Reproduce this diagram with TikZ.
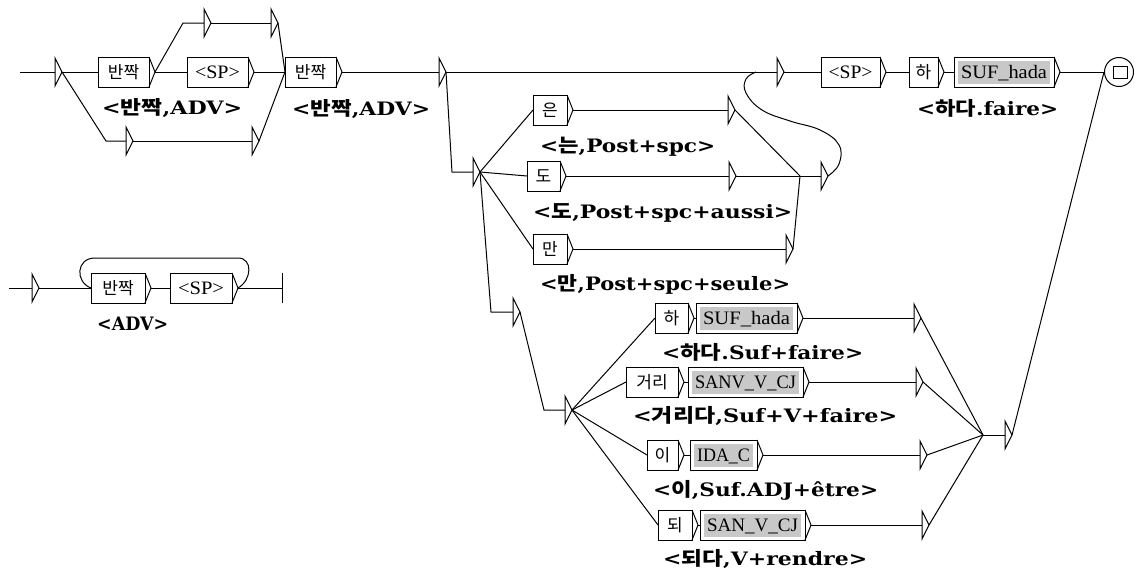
\documentclass[tikz,border=0pt]{standalone}
\usepackage{fontspec}
\usepackage{graphicx}
\setmainfont{Liberation Serif}
\newfontfamily\kr{Noto Sans CJK KR}
\newfontfamily\lat{DejaVu Serif}
\tikzset{
  x=1pt, y=-1pt,
  lw/.style={line width=1pt, draw=black, line join=miter},
  greyfill/.style={fill={rgb,255:red,200;green,200;blue,200}},
  btext/.style={inner sep=0pt, anchor=base, font=\fontsize{19}{19}\selectfont},
  lab/.style={inner sep=0pt, anchor=base west, font=\fontsize{18.5}{18.5}\selectfont\lat\bfseries},
}
\newcommand\fw[2]{\resizebox{#1pt}{\height}{#2}}
\newcommand\K[1]{{\kr\fontsize{17}{17}\selectfont #1}}
\newcommand\KL[1]{{\kr\fontsize{19}{19}\selectfont #1}}
% box: name, x1, x2, yc, text
\newcommand\ubox[5]{%
  \draw[lw] (#2,#4-15) rectangle (#3,#4+15);
  \draw[lw] (#3,#4-15) -- (#3+6,#4) -- (#3,#4+15);
  \node[btext] (#1) at ({(#2+#3)/2},#4+6) {#5};
  \coordinate (#1-i) at (#2,#4);
  \coordinate (#1-o) at (#3+6,#4);
}
\newcommand\gbox[5]{%
  \fill[greyfill] (#2+4,#4-11) rectangle (#3-4,#4+12);
  \ubox{#1}{#2}{#3}{#4}{#5}%
}
% empty box (triangle): name, x, y
\newcommand\emp[3]{%
  \draw[lw] (#2,#3-14) -- (#2+7,#3) -- (#2,#3+14) -- cycle;
  \coordinate (#1-i) at (#2,#3);
  \coordinate (#1-o) at (#2+7,#3);
}
% output label: name, x, ycentre, width, text
\newcommand\lab[5]{\node[lab] (#1) at (#2,#3+7) {\fw{#4}{#5}};}
\begin{document}
\begin{tikzpicture}
\useasboundingbox (0,0) rectangle (1140,574);
% ---------------- graph 1 ----------------
\coordinate (s0) at (20,72);
\emp{t0}{55}{72}
\ubox{b1}{98}{149}{72}{\K{반짝}}
\ubox{b2}{187}{248}{72}{\fw{45}{<SP>}}
\emp{t1}{204}{23}
\emp{t2}{271}{23}
\emp{t3}{126}{141}
\emp{t4}{252}{141}
\ubox{b3}{285}{336}{72}{\K{반짝}}
\emp{t5}{439}{72}
\emp{t6}{777}{72}
\ubox{b4}{821}{880}{72}{\fw{44}{<SP>}}
\ubox{b5}{909}{938}{72}{\K{하}}
\gbox{b6}{954}{1054}{72}{\fw{86}{SUF\_hada}}
\node[circle, lw, minimum size=29pt, inner sep=0pt] (fin) at (1119,72) {};
\draw[lw] (1113,66) rectangle (1127,78);

\emp{t7}{473}{172}
\emp{t8}{513}{312}
\emp{t9}{565}{410}
\ubox{b7}{533}{567}{110}{\K{은}}
\ubox{b8}{527}{560}{176}{\K{도}}
\ubox{b9}{533}{567}{249}{\K{만}}
\emp{t10}{728}{110}
\emp{t11}{729}{176}
\emp{t12}{786}{249}
\emp{t13}{821}{176}
\coordinate (j1) at (800,176);

\ubox{h1}{655}{688}{318}{\K{하}}
\gbox{h2}{696}{797}{318}{\fw{87}{SUF\_hada}}
\emp{t14}{914}{318}
\ubox{g1}{626}{678}{382}{\K{거리}}
\gbox{g2}{688}{803}{382}{\fw{101}{SANV\_V\_CJ}}
\emp{t15}{916}{382}
\ubox{i1}{647}{678}{455}{\K{이}}
\gbox{i2}{690}{757}{455}{\fw{53}{IDA\_C}}
\emp{t16}{920}{455}
\ubox{d1}{658}{692}{525}{\K{되}}
\gbox{d2}{700}{805}{525}{\fw{91}{SAN\_V\_CJ}}
\emp{t17}{922}{525}
\coordinate (j2) at (983,435);
\emp{t18}{1005}{435}

% labels
\lab{l1}{102}{107}{140}{<\KL{반짝},ADV>}
\lab{l2}{292}{108}{138}{<\KL{반짝},ADV>}
\lab{l3}{540}{145}{175}{<\KL{는},Post+spc>}
\lab{l4}{533}{211}{259}{<\KL{도},Post+spc+aussi>}
\lab{l5}{540}{283}{250}{<\KL{만},Post+spc+seule>}
\lab{l6}{917}{108}{141}{<\KL{하다}.faire>}
\lab{l7}{662}{352}{201}{<\KL{하다}.Suf+faire>}
\lab{l8}{633}{415}{264}{<\KL{거리다},Suf+V+faire>}
\lab{l9}{653}{489}{225}{<\KL{이},Suf.ADJ+être>}
\lab{l10}{663}{558}{204}{<\KL{되다},V+rendre>}

% connectors graph 1
\draw[lw] (s0) -- (t0-i);
\draw[lw] (t0-o) -- (b1-i);
\draw[lw] (t0-o) -- (106,141) -- (t3-i);
\draw[lw] (b1-o) -- (b2-i);
\draw[lw] (b1-o) -- (183,23) -- (t1-i);
\draw[lw] (t1-o) -- (t2-i);
\draw[lw] (t3-o) -- (t4-i);
\draw[lw] (b2-o) -- (b3-i);
\draw[lw] (t2-o) -- (b3-i);
\draw[lw] (t4-o) -- (b3-i);
\draw[lw] (b3-o) -- (t5-i);
\draw[lw] (t5-o) -- (t6-i);
\draw[lw] (t6-o) -- (b4-i);
\draw[lw] (b4-o) -- (b5-i);
\draw[lw] (b5-o) -- (b6-i);
\draw[lw] (b6-o) -- (fin.west);
\draw[lw] (t5-o) -- (452,172) -- (t7-i);
\draw[lw] (t7-o) -- (b7-i);
\draw[lw] (t7-o) -- (b8-i);
\draw[lw] (t7-o) -- (b9-i);
\draw[lw] (b7-o) -- (t10-i);
\draw[lw] (b8-o) -- (t11-i);
\draw[lw] (b9-o) -- (t12-i);
\draw[lw] (t11-o) -- (t13-i);
\draw[lw] (t10-o) -- (j1);
\draw[lw] (t12-o) -- (j1);
\draw[lw] plot[smooth, tension=0.7] coordinates {(t13-o) (839,164) (839,145) (820,130) (790,121) (762,110) (746,93) (746,79) (756,72)};
\draw[lw] (t7-o) -- (491,312) -- (t8-i);
\draw[lw] (t8-o) -- (544,410) -- (t9-i);
\draw[lw] (t9-o) -- (h1-i);
\draw[lw] (t9-o) -- (g1-i);
\draw[lw] (t9-o) -- (i1-i);
\draw[lw] (t9-o) -- (d1-i);
\draw[lw] (h1-o) -- (h2-i);
\draw[lw] (g1-o) -- (g2-i);
\draw[lw] (i1-o) -- (i2-i);
\draw[lw] (d1-o) -- (d2-i);
\draw[lw] (h2-o) -- (t14-i);
\draw[lw] (g2-o) -- (t15-i);
\draw[lw] (i2-o) -- (t16-i);
\draw[lw] (d2-o) -- (t17-i);
\draw[lw] (t14-o) -- (j2);
\draw[lw] (t15-o) -- (j2);
\draw[lw] (t16-o) -- (j2);
\draw[lw] (t17-o) -- (j2);
\draw[lw] (j2) -- (t18-i);
\draw[lw] (t18-o) -- (fin.west);

% ---------------- graph 2 ----------------
\coordinate (s1) at (9,288);
\emp{t19}{32}{288}
\ubox{c1}{91}{145}{288}{\K{반짝}}
\ubox{c2}{170}{232}{288}{\fw{46}{<SP>}}
\draw[lw] (282,273) -- (282,303);
\coordinate (e1) at (282,288);
\lab{l11}{97}{323}{71}{<ADV>}
\draw[lw] (s1) -- (t19-i);
\draw[lw] (t19-o) -- (c1-i);
\draw[lw] (c1-o) -- (c2-i);
\draw[lw] (c2-o) -- (e1);
\draw[lw] (c2-o) .. controls (252,280) and (253,258) .. (238,258) -- (95,258) .. controls (76,258) and (75,282) .. (c1-i);
\end{tikzpicture}
\end{document}
